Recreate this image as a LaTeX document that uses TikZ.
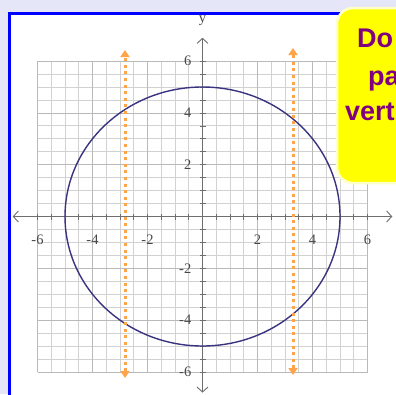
\documentclass[tikz,border=0pt]{standalone}
\usepackage{fontspec}
\setmainfont{Liberation Serif}
\newfontfamily\boxfont{Liberation Sans}
\usetikzlibrary{arrows.meta}
\definecolor{bgcol}{RGB}{229,230,248}
\definecolor{framecol}{RGB}{0,0,255}
\definecolor{boxyellow}{RGB}{255,255,0}
\definecolor{boxedge}{RGB}{255,255,200}
\definecolor{txtpurple}{RGB}{128,0,128}
\definecolor{curvecol}{RGB}{58,52,128}
\definecolor{orangecol}{RGB}{255,164,72}
\definecolor{gridminor}{RGB}{210,210,210}
\definecolor{gridmajor}{RGB}{185,185,185}
\definecolor{axiscol}{RGB}{110,110,110}
\tikzset{
  boxtext/.style={font=\boxfont\bfseries\fontsize{27}{30}\selectfont, text=txtpurple, anchor=base west, inner sep=0pt},
  ticklabel/.style={font=\fontsize{14.5}{15}\selectfont, text=black!72, inner sep=0pt},
  testline/.style={draw=orangecol, line width=3pt, dash pattern=on 3pt off 3.6pt, {Triangle[width=9pt,length=7pt]}-{Triangle[width=9pt,length=7pt]}},
  axisline/.style={draw=axiscol, line width=0.9pt, {Straight Barb[length=5pt,width=11pt]}-{Straight Barb[length=5pt,width=11pt]}}
}
\begin{document}
\begin{tikzpicture}[x=1pt,y=-1pt]
\useasboundingbox (0,0) rectangle (396,394);
\clip (0,0) rectangle (396,394);
\fill[bgcol] (0,0) rectangle (396,394);
% frame
\draw[framecol, line width=2.8pt, fill=white] (9.7,13.8) rectangle (430,430);
% graph
\begin{scope}[shift={(202.5pt,-216.5pt)}, x=27.5pt, y=25.9pt]
  \draw[gridminor, line width=0.75pt] (-6,-6) grid[step=0.5] (6,6);
  \draw[gridmajor, line width=0.75pt] (-6,-6) grid[step=2] (6,6);
  \coordinate (xl) at (-6.9,0);
  \coordinate (xr) at (6.9,0);
  \coordinate (yt) at (0,6.9);
  \coordinate (yb) at (0,-6.8);
  \draw[axisline] (xl) -- (xr);
  \draw[axisline] (yb) -- (yt);
  \foreach \t in {-6,-5.5,...,6} {
    \draw[axiscol, line width=0.7pt] (\t,0) ++(0,-3pt) -- ++(0,6pt);
    \draw[axiscol, line width=0.7pt] (0,\t) ++(-3pt,0) -- ++(6pt,0);
  }
  \foreach \v/\n in {-6/xm6,-4/xm4,-2/xm2,2/xp2,4/xp4,6/xp6}
    \node[ticklabel] (\n) at (\v,-0.9) {\v};
  \foreach \v/\n in {-6/ym6,-4/ym4,-2/ym2,2/yp2,4/yp4,6/yp6}
    \node[ticklabel, anchor=east] (\n) at ([xshift=-11pt]0,\v) {\v};
  \node[ticklabel] (ylab) at (0,7.55) {y};
  \draw[curvecol, line width=1.4pt] (0,0) ellipse [x radius=5, y radius=5];
\end{scope}
% vertical line test arrows
\coordinate (la) at (125,50);
\coordinate (lb) at (125,378);
\coordinate (ra) at (293,48);
\coordinate (rb) at (293,375);
\draw[testline] (lb) -- (la);
\draw[testline] (rb) -- (ra);
% yellow box
\draw[boxedge, line width=2.5pt, fill=boxyellow, rounded corners=16pt] (337,8) rectangle (440,183);
\node[boxtext] (t1) at (357,47) {Do};
\node[boxtext] (t2) at (368,85) {pa};
\node[boxtext] (t3) at (345,120) {vert};
\end{tikzpicture}
\end{document}
